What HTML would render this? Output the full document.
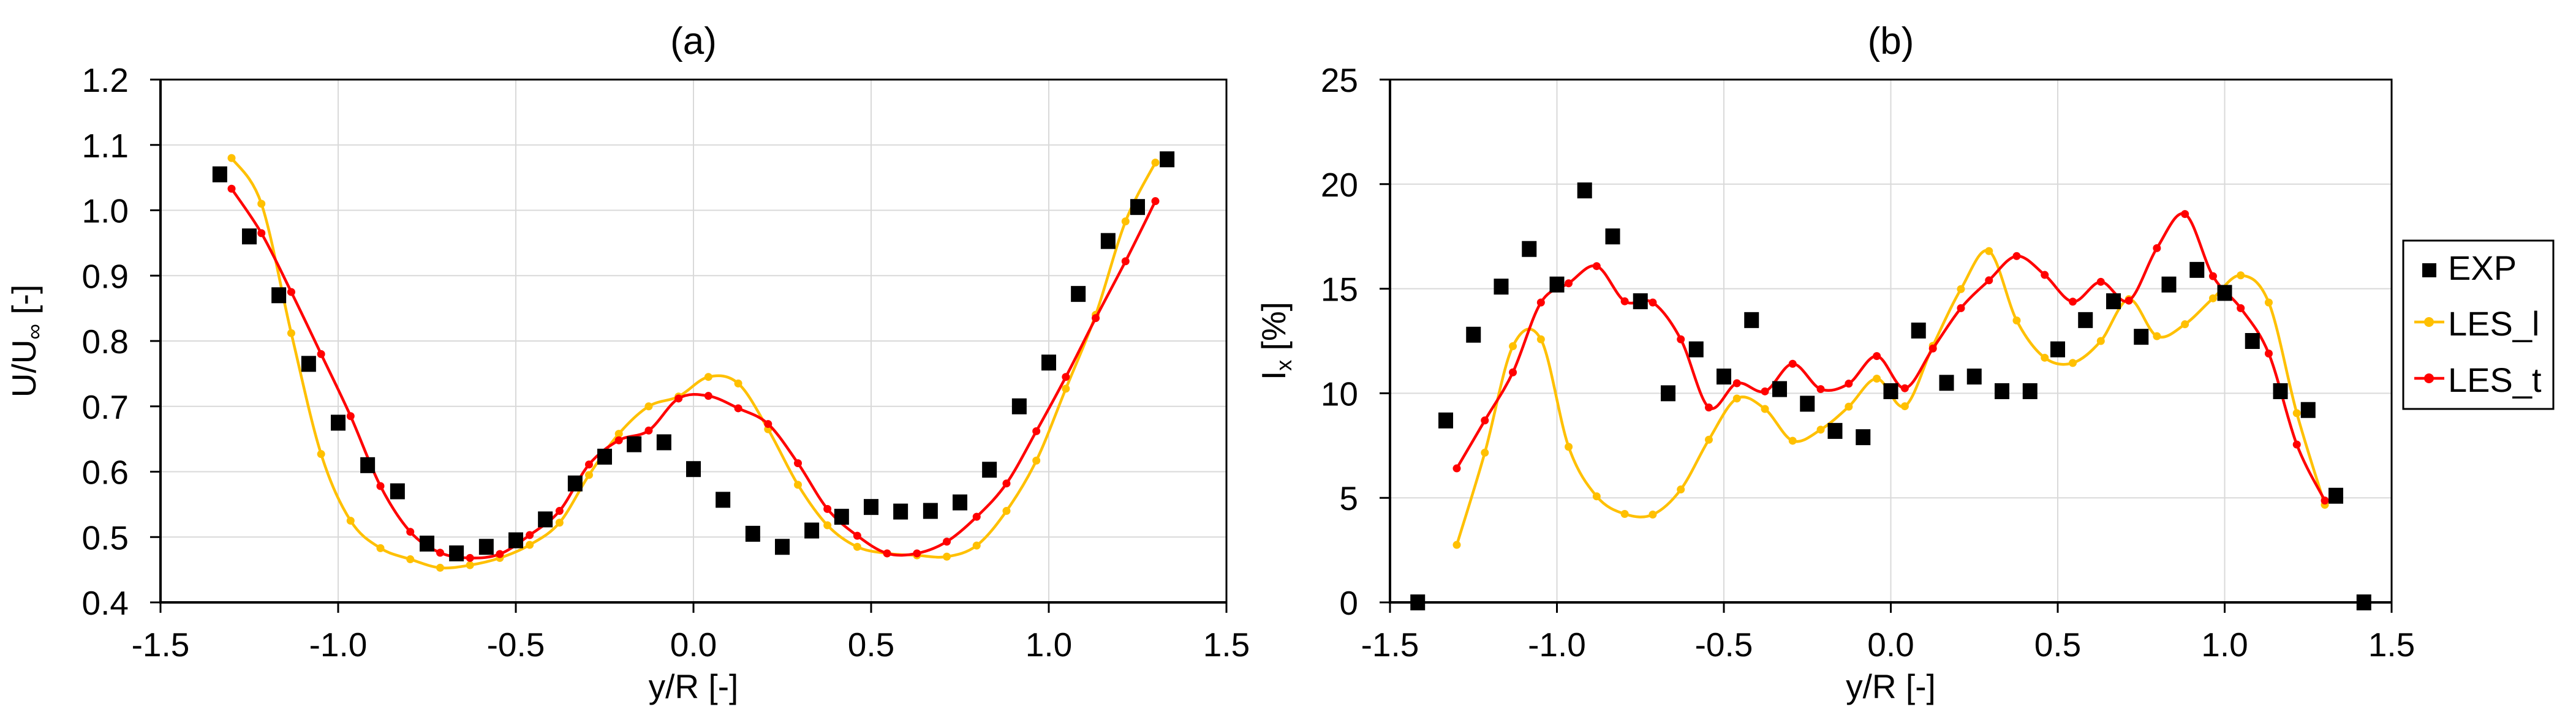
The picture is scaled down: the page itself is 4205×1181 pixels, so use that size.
<!DOCTYPE html>
<html><head><meta charset="utf-8"><style>
html,body{margin:0;padding:0;background:#fff}
svg{display:block}
text{font-family:"Liberation Sans",Arial,sans-serif;fill:#000}
</style></head><body>
<svg id="fig" width="4205" height="1181" viewBox="0 0 4205 1181" xmlns="http://www.w3.org/2000/svg"></svg>
<script>
// ---- Panel (a) data ----
const expX = [-1.333,-1.25,-1.167,-1.083,-1.0,-0.917,-0.833,-0.75,-0.667,-0.583,-0.5,-0.417,-0.333,-0.25,-0.167,-0.083,0,0.083,0.167,0.25,0.333,0.417,0.5,0.583,0.667,0.75,0.833,0.917,1.0,1.083,1.167,1.25,1.333];
const expA = [1.055,0.96,0.87,0.765,0.675,0.61,0.57,0.49,0.475,0.485,0.495,0.527,0.582,0.623,0.642,0.645,0.604,0.557,0.505,0.485,0.51,0.531,0.546,0.539,0.54,0.553,0.603,0.7,0.767,0.872,0.953,1.005,1.078];
const lesX = [-1.3,-1.216,-1.132,-1.048,-0.965,-0.881,-0.797,-0.713,-0.629,-0.545,-0.461,-0.377,-0.294,-0.21,-0.126,-0.042,0.042,0.126,0.21,0.294,0.377,0.461,0.545,0.629,0.713,0.797,0.881,0.965,1.048,1.132,1.216,1.3];
const lesLA = [1.08,1.01,0.812,0.627,0.525,0.483,0.466,0.453,0.457,0.468,0.488,0.522,0.595,0.658,0.70,0.715,0.745,0.735,0.665,0.58,0.518,0.485,0.475,0.472,0.47,0.487,0.54,0.617,0.727,0.84,0.983,1.073];
const lesTA = [1.033,0.965,0.875,0.78,0.685,0.578,0.508,0.476,0.468,0.474,0.503,0.54,0.611,0.648,0.663,0.712,0.716,0.697,0.673,0.613,0.543,0.502,0.475,0.475,0.493,0.531,0.582,0.662,0.745,0.835,0.922,1.014];
// ---- Panel (b) data ----
const expXB = [-1.417,-1.333,-1.25,-1.167,-1.083,-1.0,-0.917,-0.833,-0.75,-0.667,-0.583,-0.5,-0.417,-0.333,-0.25,-0.167,-0.083,0,0.083,0.167,0.25,0.333,0.417,0.5,0.583,0.667,0.75,0.833,0.917,1.0,1.083,1.167,1.25,1.333,1.417];
const expB = [0,8.7,12.8,15.1,16.9,15.2,19.7,17.5,14.4,10.0,12.1,10.8,13.5,10.2,9.5,8.2,7.9,10.1,13.0,10.5,10.8,10.1,10.1,12.1,13.5,14.4,12.7,15.2,15.9,14.8,12.5,10.1,9.2,5.1,0];
const lesLB = [2.75,7.16,12.25,12.58,7.44,5.07,4.23,4.2,5.4,7.78,9.75,9.25,7.73,8.26,9.36,10.7,9.38,12.27,14.98,16.8,13.48,11.7,11.45,12.5,14.5,12.73,13.3,14.54,15.64,14.34,9.05,4.67];
const lesTB = [6.41,8.7,11.0,14.34,15.26,16.08,14.4,14.34,12.58,9.32,10.48,10.09,11.41,10.2,10.46,11.78,10.24,12.14,14.07,15.4,16.56,15.66,14.38,15.33,14.43,16.94,18.57,15.6,14.07,11.9,7.55,4.87];
const xTicks = ["-1.5","-1.0","-0.5","0.0","0.5","1.0","1.5"];
const yTicksA = ["0.4","0.5","0.6","0.7","0.8","0.9","1.0","1.1","1.2"];
const yTicksB = ["0","5","10","15","20","25"];

const NS = "http://www.w3.org/2000/svg";
const svg = document.getElementById('fig');
function el(tag, attrs, parent){ const e=document.createElementNS(NS,tag); for(const k in attrs) e.setAttribute(k,attrs[k]); (parent||svg).appendChild(e); return e; }
function smoothPath(pts){
  let d = `M${pts[0][0]},${pts[0][1]}`;
  for(let i=0;i<pts.length-1;i++){
    const p0=pts[Math.max(0,i-1)], p1=pts[i], p2=pts[i+1], p3=pts[Math.min(pts.length-1,i+2)];
    const c1=[p1[0]+(p2[0]-p0[0])/6, p1[1]+(p2[1]-p0[1])/6];
    const c2=[p2[0]-(p3[0]-p1[0])/6, p2[1]-(p3[1]-p1[1])/6];
    d += ` C${c1[0]},${c1[1]} ${c2[0]},${c2[1]} ${p2[0]},${p2[1]}`;
  }
  return d;
}
function panel(cfg){
  const g = el('g',{});
  
  
  const L=cfg.left,R=cfg.right,T=130,B=984;
  const xs = v => L + (v+1.5)/3*(R-L);
  const ys = v => B - (v-cfg.ymin)/(cfg.ymax-cfg.ymin)*(B-T);
  // grid
  xTicks.forEach(t=>{ const v=parseFloat(t); const x=xs(v);
    if(v>-1.5 && v<1.5){ const ln=el('line',{x1:x,x2:x,y1:T,y2:B,stroke:'#d9d9d9','stroke-width':2},g);
        }
    const tk=el('line',{x1:x,x2:x,y1:B,y2:B+17,stroke:'#000','stroke-width':3},g);
     
    const tx=el('text',{x:x,y:1072,'font-size':55,'text-anchor':'middle'},g); tx.textContent=t;
     
  });
  cfg.yt.forEach(t=>{ const v=parseFloat(t); const y=ys(v);
    if(v>cfg.ymin && v<cfg.ymax){ const ln=el('line',{x1:L,x2:R,y1:y,y2:y,stroke:'#d9d9d9','stroke-width':2},g);
        }
    const tk=el('line',{x1:L-17,x2:L,y1:y,y2:y,stroke:'#000','stroke-width':3},g);
     
    const tx=el('text',{x:L-52,y:y+20,'font-size':55,'text-anchor':'end'},g); tx.textContent=t;
     
  });
  const frame=el('path',{d:`M${L},${T} H${R} V${B}`,stroke:'#000','stroke-width':3,fill:'none'},g);
   
  const ax=el('path',{d:`M${L},${T} V${B} H${R}`,stroke:'#000','stroke-width':4,fill:'none'},g);
   
  // series
  [[cfg.l,'#FFC000','les-l'],[cfg.t,'#FF0000','les-t']].forEach(([vals,col,nm])=>{
    const pts = vals.map((v,i)=>[xs(lesX[i]), ys(v)]);
    const p=el('path',{d:smoothPath(pts),stroke:col,'stroke-width':4.5,fill:'none'},g);
     
    pts.forEach(pt=>{ const c=el('circle',{cx:pt[0],cy:pt[1],r:6.5,fill:col},g);
        });
  });
  cfg.ex.forEach((v,i)=>{ const x=xs(cfg.exX[i]), y=ys(v);
    const r=el('rect',{x:x-12,y:y-13,width:24,height:26,fill:'#000'},g);
      });
  const ti=el('text',{x:(L+R)/2,y:88,'font-size':62,'text-anchor':'middle'},g); ti.textContent=cfg.title;
   
  const xt=el('text',{x:(L+R)/2,y:1140,'font-size':55,'text-anchor':'middle'},g); xt.textContent='y/R [-]';
   
  return {g,T,B};
}
const a = panel({name:'panel-a',left:262,right:2002,ymin:0.4,ymax:1.2,yt:yTicksA,l:lesLA,t:lesTA,ex:expA,exX:expX,title:'(a)'});
const ya=el('text',{transform:`translate(58,${(130+984)/2}) rotate(-90)`,'font-size':55,'text-anchor':'middle'},a.g);
ya.innerHTML='U/U<tspan font-size="36" dy="10">∞</tspan><tspan dy="-10"> [-]</tspan>';
 
const b = panel({name:'panel-b',left:2269,right:3904,ymin:0,ymax:25,yt:yTicksB,l:lesLB,t:lesTB,ex:expB,exX:expXB,title:'(b)'});
const yb=el('text',{transform:`translate(2098,${(130+984)/2}) rotate(-90)`,'font-size':55,'text-anchor':'middle'},b.g);
yb.innerHTML='I<tspan font-size="36" dy="10">x</tspan><tspan dy="-10"> [%]</tspan>';
 
// legend
const lg=el('g',{});
 
const box=el('rect',{x:3923,y:393,width:245,height:275,fill:'#fff',stroke:'#000','stroke-width':3},lg);
 
const e1=el('rect',{x:3954,y:430,width:23,height:23,fill:'#000'},lg);
 
[['EXP',457,null],['LES_l',548,'#FFC000'],['LES_t',640,'#FF0000']].forEach(([t,y,col])=>{
  if(col){ const ln=el('line',{x1:3941,x2:3990,y1:y-22,y2:y-22,stroke:col,'stroke-width':4.5},lg);
     
    const c=el('circle',{cx:3965,cy:y-22,r:8,fill:col},lg);
      }
  const tx=el('text',{x:3996,y:y,'font-size':56},lg); tx.textContent=t;
   
});
</script>
</body></html>
